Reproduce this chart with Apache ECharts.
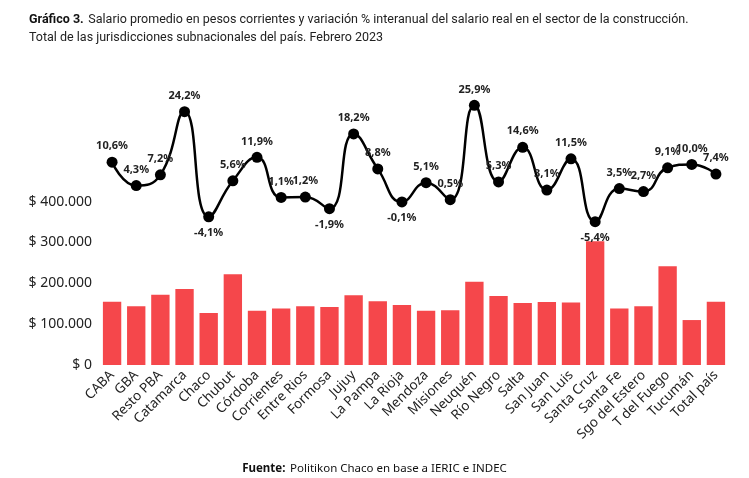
<!DOCTYPE html>
<html><head><meta charset="utf-8">
<script src="https://cdn.jsdelivr.net/npm/echarts@6/dist/echarts.min.js"></script>
<style>html,body{margin:0;padding:0;background:#fff}#c{width:749px;height:478px}</style>
</head><body><div id="c"></div>
<script>
const categories = ["CABA","GBA","Resto PBA","Catamarca","Chaco","Chubut","Córdoba","Corrientes","Entre Rios","Formosa","Jujuy","La Pampa","La Rioja","Mendoza","Misiones","Neuquén","Río Negro","Salta","San Juan","San Luis","Santa Cruz","Santa Fe","Sgo del Estero","T del Fuego","Tucumán","Total país"];
const salario = [155000,144000,172000,186000,127000,222000,133000,138000,144000,142000,171000,156000,147000,133000,134000,204000,169000,152000,154000,153000,303000,138000,144000,242000,110000,155000];
const variacion = [10.6,4.3,7.2,24.2,-4.1,5.6,11.9,1.1,1.2,-1.9,18.2,8.8,-0.1,5.1,0.5,25.9,5.3,14.6,3.1,11.5,-5.4,3.5,2.7,9.1,10.0,7.4];
const yTicks = [0,100000,200000,300000,400000];

const fmtMoney = v => v === 0 ? "$ 0" : "$ " + v.toLocaleString("de-DE");
const chart = echarts.init(document.getElementById('c'));
chart.setOption({
  animation:false,
  textStyle:{fontFamily:"Noto Sans"},
  title:[{
    left:24, top:6,
    text:"{b|Gráfico 3.} {n|Salario promedio en pesos corrientes y variación % interanual del salario real en el sector de la construcción.}\n{n|Total de las jurisdicciones subnacionales del país. Febrero 2023}",
    textStyle:{fontWeight:'normal', rich:{
      b:{fontFamily:"Roboto",fontWeight:"bold",fontSize:12.5,color:"#111",lineHeight:17},
      n:{fontFamily:"Roboto",fontWeight:"normal",fontSize:12.5,color:"#222",lineHeight:17}
    }}
  },{
    left:'center', top:455,
    text:"{b|Fuente:} {n|Politikon Chaco en base a IERIC e INDEC}",
    textStyle:{fontWeight:'normal', rich:{
      b:{fontFamily:"Noto Sans",fontWeight:"bold",fontSize:11.5,color:"#111"},
      n:{fontFamily:"Noto Sans",fontWeight:"normal",fontSize:11.5,color:"#111"}
    }}
  }],
  grid:{left:100, right:21, top:79, bottom:113},
  xAxis:{
    type:'category', data:categories,
    axisLine:{show:false}, axisTick:{show:false},
    axisLabel:{rotate:45, interval:0, fontSize:13.5, color:"#222", margin:8, fontFamily:"Noto Sans"}
  },
  yAxis:[{
    type:'value', min:0, max:700000, interval:100000,
    splitLine:{show:false}, axisLine:{show:false}, axisTick:{show:false},
    axisLabel:{fontSize:14, color:"#222", margin:8,
      formatter: v => yTicks.includes(v) ? fmtMoney(v) : ""}
  },{
    type:'value', min:-44, max:33, show:false, splitLine:{show:false}
  }],
  series:[{
    type:'bar', data:salario, barCategoryGap:'24%',
    itemStyle:{color:'#f5474b'}
  },{
    type:'line', yAxisIndex:1, smooth:true,
    data: variacion.map(v => ({value:v, label:{position: v < 0 ? 'bottom' : 'top'}})),
    symbol:'circle', symbolSize:11,
    lineStyle:{color:'#000', width:2.5},
    itemStyle:{color:'#000'},
    label:{show:true, fontSize:11, fontWeight:'bold', color:'#222', distance:5,
      formatter: p => p.value.toFixed(1).replace('.', ',') + '%'}
  }]
});
</script></body></html>
